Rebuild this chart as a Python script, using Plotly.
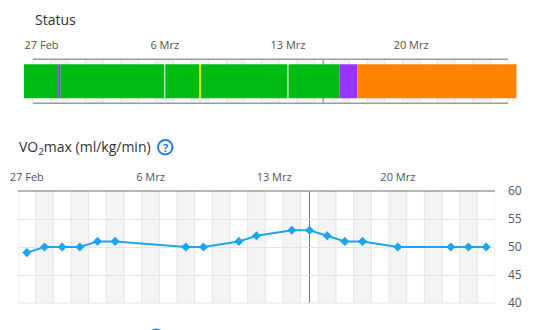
import plotly.graph_objects as go

# ---- data ----
# day index: 0 = 27 Feb, 7 = 6 Mrz, 14 = 13 Mrz, 21 = 20 Mrz
tick_days = [0, 7, 14, 21]
tick_labels = ["27 Feb", "6 Mrz", "13 Mrz", "20 Mrz"]
n_days = 27
marker_day = 16

# training status segments (start day, end day, status)
seg_start = [-1.0, 0.94, 1.06, 7.03, 8.95, 9.06, 14.03, 16.92, 17.94]
seg_end = [0.94, 1.06, 6.97, 8.95, 9.06, 13.97, 16.92, 17.94, 27.0]
seg_status = ["Produktiv", "Höchstform", "Produktiv", "Produktiv", "Erhaltend",
              "Produktiv", "Produktiv", "Höchstform", "Unproduktiv"]
status_colors = {"Produktiv": "#00bb12", "Höchstform": "#9933ff",
                 "Erhaltend": "#d8f000", "Unproduktiv": "#ff8200"}

# VO2max series
vo2_days = [0, 1, 2, 3, 4, 5, 9, 10, 12, 13, 15, 16, 17, 18, 19, 21, 24, 25, 26]
vo2_vals = [49, 50, 50, 50, 51, 51, 50, 50, 51, 52, 53, 53, 52, 51, 51, 50, 50, 50, 50]

W, H = 539, 330
FONT = "Open Sans"
GRID = "#e4e4e4"
BORDER = "#9c9c9c"
SHADE = "#f4f4f4"

fig = go.Figure()

fig.add_trace(go.Bar(
    orientation="h",
    y=[0] * len(seg_start),
    x=[e - s for s, e in zip(seg_start, seg_end)],
    base=seg_start,
    marker=dict(color=[status_colors[s] for s in seg_status], line=dict(width=0)),
    width=0.77,
    text=seg_status, textposition="none",
    xaxis="x", yaxis="y", hoverinfo="text",
))

fig.add_trace(go.Scatter(
    x=vo2_days, y=vo2_vals, mode="lines+markers",
    line=dict(color="#1aa6ee", width=2),
    marker=dict(symbol="diamond", size=7, color="#1aa6ee"),
    xaxis="x2", yaxis="y2",
))


def px_x(p):
    return p / W


def px_y(p):
    return 1 - p / H


common_x = dict(
    side="top", tickmode="array", tickvals=tick_days, ticktext=tick_labels,
    showgrid=False, zeroline=False, showline=False, ticks="",
    tickfont=dict(family=FONT, size=11, color="#555"),
    fixedrange=True, ticklabelstandoff=7, automargin=False,
)

fig.update_layout(
    template="none",
    width=W, height=H, margin=dict(l=0, r=0, t=0, b=0, pad=0), autosize=False,
    paper_bgcolor="white", plot_bgcolor="white", showlegend=False,
    barmode="overlay", font=dict(family=FONT),
    xaxis=dict(domain=[px_x(24), px_x(516.7)], range=[-1, 27], anchor="y", **common_x),
    yaxis=dict(domain=[px_y(103.3), px_y(59.3)], range=[-0.5, 0.5], visible=False,
               fixedrange=True, automargin=False),
    xaxis2=dict(domain=[px_x(18), px_x(495)], range=[-0.5, 26.5], anchor="y2", **common_x),
    yaxis2=dict(domain=[px_y(303), px_y(191)], range=[40, 60], side="right", anchor="x2",
                tickmode="array", tickvals=[40, 45, 50, 55, 60], showgrid=True, gridcolor=GRID,
                gridwidth=1, zeroline=False, showline=False, ticks="", ticklabelstandoff=12,
                tickfont=dict(family=FONT, size=12, color="#555"), fixedrange=True,
                automargin=False),
)

shapes = []
for xa, ya in (("x", "y"), ("x2", "y2")):
    yd = ya + " domain"
    for d in range(1, n_days, 2):
        shapes.append(dict(type="rect", xref=xa, yref=yd, x0=d - 0.5, x1=d + 0.5,
                           y0=0, y1=1, fillcolor=SHADE, line=dict(width=0), layer="below"))
    for d in range(n_days + 1):
        shapes.append(dict(type="line", xref=xa, yref=yd, x0=d - 0.5, x1=d - 0.5,
                           y0=0, y1=1, line=dict(color=GRID, width=1), layer="below"))
    shapes.append(dict(type="line", xref=xa, yref=yd, x0=marker_day, x1=marker_day,
                       y0=0, y1=1, line=dict(color="#777", width=1), layer="below"))

# top chart frame
for yy in (0, 1):
    shapes.append(dict(type="line", xref="x", yref="y domain", x0=-0.5, x1=n_days - 0.5,
                       y0=yy, y1=yy, line=dict(color=BORDER, width=1.5), layer="below"))
# bottom chart frame
shapes.append(dict(type="line", xref="x2", yref="y2 domain", x0=-0.5, x1=n_days - 0.5,
                   y0=0, y1=0, line=dict(color=GRID, width=1), layer="below"))
shapes.append(dict(type="line", xref="x2", yref="y2 domain", x0=-0.5, x1=n_days - 0.5,
                   y0=1, y1=1, line=dict(color=BORDER, width=1.5), layer="below"))

# help icon
shapes.append(dict(type="circle", xref="paper", yref="paper",
                   x0=px_x(158), x1=px_x(172.5), y0=px_y(154.5), y1=px_y(140),
                   line=dict(color="#1a7fe0", width=2)))
# partially visible icon of next section
shapes.append(dict(type="circle", xref="paper", yref="paper",
                   x0=px_x(149), x1=px_x(163.5), y0=px_y(344), y1=px_y(329.5),
                   line=dict(color="#1a7fe0", width=2)))

fig.update_layout(shapes=shapes)

fig.add_annotation(text="Status", xref="paper", yref="paper", x=px_x(33), y=px_y(20),
                   xanchor="left", yanchor="middle", showarrow=False,
                   font=dict(family=FONT, size=14, color="#333"))
fig.add_annotation(text="VO<sub>2</sub>max (ml/kg/min)", xref="paper", yref="paper",
                   x=px_x(17), y=px_y(147), xanchor="left", yanchor="middle", showarrow=False,
                   font=dict(family=FONT, size=14, color="#333"))
fig.add_annotation(text="<b>?</b>", xref="paper", yref="paper", x=px_x(165.3), y=px_y(147.3),
                   xanchor="center", yanchor="middle", showarrow=False,
                   font=dict(family=FONT, size=11, color="#1a7fe0"))

fig.write_html("out.html")
